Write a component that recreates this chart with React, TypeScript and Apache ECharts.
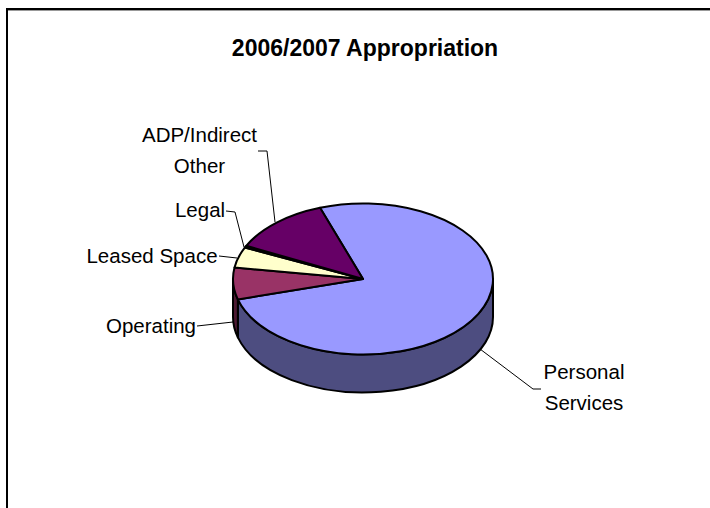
import React, { useEffect, useRef } from "react";
import * as echarts from "echarts";

const title = "2006/2007 Appropriation";
const categories = ["Personal Services", "Operating", "Leased Space", "Legal", "ADP/Indirect Other"];
const labels = ["Personal\nServices", "Operating", "Leased Space", "Legal", "ADP/Indirect\nOther"];
const values = [76, 6.8, 4.4, 0.4, 12.4];
const topColors = ["#9999FF", "#993366", "#FFFFCC", "#CCFFFF", "#660066"];
const sideColors = ["#4D4D80", "#4D1A33", "#808066", "#668080", "#330033"];

const labelAnchors = [
  { x: 584, y: 386.5 },
  { x: 151, y: 325 },
  { x: 152, y: 255 },
  { x: 200, y: 209 },
  { x: 199.5, y: 149.5 },
];
const leaders = [
  [[480, 349], [533, 389], [541, 389]],
  [[197, 326], [233, 322]],
  [[219, 256], [237, 258]],
  [[226, 211], [235, 212], [244, 247]],
  [[258, 151], [267, 151], [275, 222]],
];

const CX = 363;
const CY = 279;
const RX = 130;
const RY = 75.5;
const DEPTH = 38;
const START = -19.3;

const total = values.reduce((a, b) => a + b, 0);
const spans = values.map((_, i) => {
  const before = values.slice(0, i).reduce((a, b) => a + b, 0);
  return [START + (before / total) * 360, START + ((before + values[i]) / total) * 360];
});
const pt = (deg: number, dy = 0) => {
  const r = (deg * Math.PI) / 180;
  return [CX + RX * Math.sin(r), CY - RY * Math.cos(r) + dy];
};
const arcTo = (deg: number, from: number, dy = 0, sweep = 1) => {
  const [x, y] = pt(deg, dy);
  return `A${RX} ${RY} 0 ${Math.abs(deg - from) > 180 ? 1 : 0} ${sweep} ${x} ${y}`;
};

const wallPath = (a0: number, a1: number) => {
  const s = Math.max(a0, 90);
  const e = Math.min(a1, 270);
  if (e <= s) return null;
  const [sx, sy] = pt(s);
  const [ex, ey] = pt(e, DEPTH);
  return `M${sx} ${sy}${arcTo(e, s)}L${ex} ${ey}${arcTo(s, e, DEPTH, 0)}Z`;
};
const topPath = (a0: number, a1: number) => {
  const [sx, sy] = pt(a0);
  return `M${CX} ${CY}L${sx} ${sy}${arcTo(a1, a0)}Z`;
};

export default function App() {
  const ref = useRef<HTMLDivElement>(null);
  useEffect(() => {
    const chart = echarts.init(ref.current!, undefined, { renderer: "svg" });
    const edge = { stroke: "#000", lineWidth: 2, lineJoin: "round" };
    chart.setOption({
      animation: false,
      backgroundColor: "#fff",
      title: {
        text: title,
        left: 360,
        top: 31,
        textAlign: "center",
        textStyle: { fontFamily: "Liberation Sans", fontSize: 23, fontWeight: "bold", color: "#000" },
      },
      series: [
        {
          type: "custom",
          name: "side",
          coordinateSystem: "none",
          z: 1,
          silent: true,
          data: values.map((v, i) => ({ name: categories[i], value: v })),
          renderItem: (p: any) => {
            const [a0, a1] = spans[p.dataIndex];
            const d = wallPath(a0, a1);
            if (!d) return { type: "group", children: [] };
            return { type: "path", shape: { pathData: d }, style: { ...edge, fill: sideColors[p.dataIndex] } };
          },
        },
        {
          type: "custom",
          name: "top",
          coordinateSystem: "none",
          z: 2,
          silent: true,
          data: values.map((v, i) => ({ name: categories[i], value: v })),
          renderItem: (p: any) => {
            const [a0, a1] = spans[p.dataIndex];
            return { type: "path", shape: { pathData: topPath(a0, a1) }, style: { ...edge, fill: topColors[p.dataIndex] } };
          },
        },
      ],
      graphic: [
        { type: "line", shape: { x1: 7, y1: 9, x2: 710, y2: 9 }, style: { stroke: "#000", lineWidth: 2 } },
        { type: "line", shape: { x1: 7, y1: 10.5, x2: 710, y2: 10.5 }, style: { stroke: "#999", lineWidth: 1 } },
        { type: "line", shape: { x1: 7, y1: 8, x2: 7, y2: 508 }, style: { stroke: "#000", lineWidth: 2 } },
        ...leaders.map((points) => ({
          type: "polyline",
          z: 5,
          shape: { points },
          style: { stroke: "#000", lineWidth: 1, fill: "none" },
        })),
        ...labels.map((t, i) => ({
          type: "text",
          z: 6,
          x: labelAnchors[i].x,
          y: labelAnchors[i].y,
          style: {
            text: t,
            fontFamily: "Liberation Sans",
            fontSize: 20.5,
            lineHeight: 31,
            fill: "#000",
            align: "center",
            verticalAlign: "middle",
          },
        })),
      ],
    });
    return () => chart.dispose();
  }, []);
  return <div ref={ref} style={{ position: "absolute", left: 0, top: 0, width: 710, height: 508 }} />;
}
